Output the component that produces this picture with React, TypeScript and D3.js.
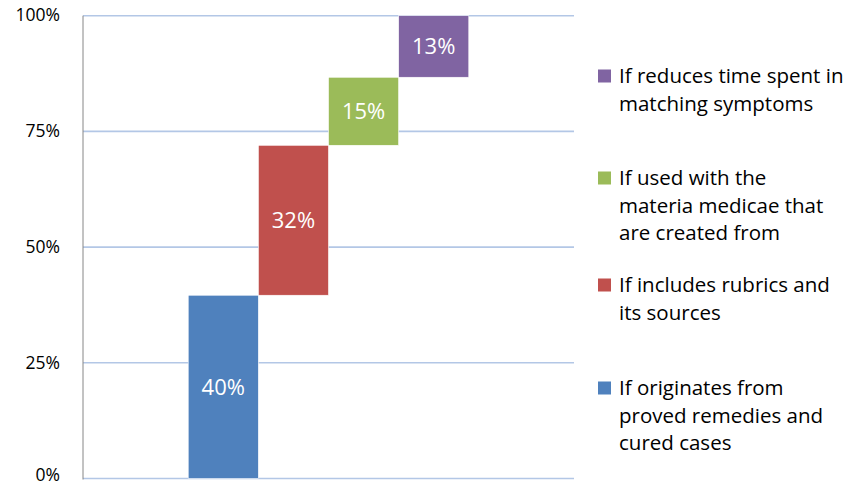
import React, { useEffect, useRef } from "react";
import * as d3 from "d3";

// segment values (percent), bottom to top
const categories = ["originates", "rubrics", "materia", "time"];
const values = [39.6, 32.4, 14.7, 13.3];
const colors = ["#4f81bd", "#c0504d", "#9bbb59", "#8064a2"];
const legendLines = [
  ["If originates from", "proved remedies and", "cured cases"],
  ["If includes rubrics and", "its sources"],
  ["If used with the", "materia medicae that", "are created from"],
  ["If reduces time spent in", "matching symptoms"],
];
const yTicks = [0, 25, 50, 75, 100];

const width = 848;
const height = 487;
const font = "'Open Sans', Lato, sans-serif";

const App = () => {
  const ref: any = useRef(null);

  useEffect(() => {
    const svg = d3.select(ref.current);
    svg.selectAll("*").remove();

    const x = d3
      .scaleBand()
      .domain(categories)
      .range([83, 574])
      .paddingInner(0)
      .paddingOuter(1.5);

    const y = d3.scaleLinear().domain([0, 100]).range([478.5, 15.7]);

    // gridlines
    svg
      .append("g")
      .selectAll("line")
      .data(yTicks)
      .join("line")
      .attr("x1", 83)
      .attr("x2", 574)
      .attr("y1", (d) => y(d))
      .attr("y2", (d) => y(d))
      .attr("stroke", "#b3c7e6")
      .attr("stroke-width", 1.6);

    // y axis
    svg
      .append("line")
      .attr("x1", 83)
      .attr("x2", 83)
      .attr("y1", y(100))
      .attr("y2", y(0) + 1)
      .attr("stroke", "#868686")
      .attr("stroke-width", 1);

    // keep the 0% label inside the picture
    svg
      .append("g")
      .selectAll("text")
      .data(yTicks)
      .join("text")
      .attr("x", 60)
      .attr("y", (d) => Math.min(y(d), height - 12))
      .attr("dy", "0.33em")
      .attr("text-anchor", "end")
      .attr("font-family", font)
      .attr("font-size", 17.5)
      .attr("fill", "#000")
      .text((d) => d + "%");

    // stacked floating segments
    const starts = values.map((_, i) => d3.sum(values.slice(0, i)));

    const bars = svg.append("g");
    bars
      .selectAll("rect")
      .data(categories)
      .join("rect")
      .attr("x", (d) => x(d) as number)
      .attr("width", x.bandwidth())
      .attr("y", (_, i) => y(starts[i] + values[i]))
      .attr("height", (_, i) => y(starts[i]) - y(starts[i] + values[i]))
      .attr("fill", (_, i) => colors[i])
      .attr("stroke", "#fff")
      .attr("stroke-width", 0.6);

    bars
      .selectAll("text")
      .data(categories)
      .join("text")
      .attr("x", (d) => (x(d) as number) + x.bandwidth() / 2)
      .attr("y", (_, i) => y(starts[i] + values[i] / 2))
      .attr("dy", "0.35em")
      .attr("text-anchor", "middle")
      .attr("font-family", font)
      .attr("font-size", 22)
      .attr("fill", "#fff")
      .text((_, i) => Math.round(values[i]) + "%");

    // legend, top to bottom (reverse of stack)
    const legendTop = [76, 178, 285, 388];
    const order = [3, 2, 1, 0];
    const lg = svg.append("g");
    order.forEach((idx, k) => {
      const ty = legendTop[k];
      lg.append("rect")
        .attr("x", 598)
        .attr("y", ty - 6.5)
        .attr("width", 13)
        .attr("height", 13)
        .attr("fill", colors[idx]);
      lg.append("text")
        .attr("font-family", font)
        .attr("font-size", 20.5)
        .attr("fill", "#000")
        .selectAll("tspan")
        .data(legendLines[idx])
        .join("tspan")
        .attr("x", 619)
        .attr("y", (_, j) => ty + j * 27.5)
        .attr("dy", "0.35em")
        .text((d) => d);
    });
  }, []);

  return (
    <svg
      ref={ref}
      width={width}
      height={height}
      viewBox={`0 0 ${width} ${height}`}
      style={{ position: "absolute", left: 0, top: 0, background: "#fff" }}
    />
  );
};

export default App;
